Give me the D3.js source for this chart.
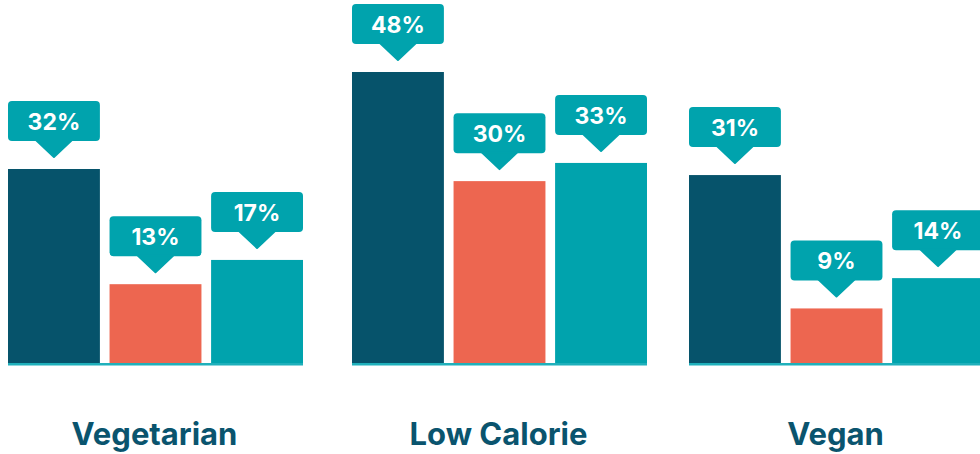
<!DOCTYPE html>
<html>
<head>
<meta charset="utf-8">
<script src="https://cdn.jsdelivr.net/npm/d3@7"></script>
<style>
  html, body { margin: 0; padding: 0; background: #fff; }
  svg { display: block; }
</style>
</head>
<body>
<div id="chart"></div>
<script>
// data
const categories = ["Vegetarian", "Low Calorie", "Vegan"];
const series = ["s1", "s2", "s3"];
const values = [
  [32, 13, 17],
  [48, 30, 33],
  [31, 9, 14],
];

const width = 980,
  height = 454,
  baseline = 363,
  groupWidth = 295,
  barColors = ["#06536b", "#ed6650", "#00a3ad"],
  calloutColor = "#00a3ad",
  lineColor = "#1fb0bb",
  labelColor = "#0a546e",
  fontFamily = "Inter, 'Open Sans', sans-serif";

// group left edges (the original layout is not evenly spaced)
const groupX = d3.scaleOrdinal(categories, [8, 352, 689]);

const xInner = d3.scaleBand(series, [0, groupWidth]).paddingInner(0.095);

const yScale = d3.scaleLinear([0, 48], [baseline, 72]);

const svg = d3
  .select("#chart")
  .append("svg")
  .attr("width", width)
  .attr("height", height)
  .attr("viewBox", [0, 0, width, height]);

const groups = svg
  .selectAll("g.group")
  .data(categories)
  .join("g")
  .attr("class", "group")
  .attr("transform", (d) => `translate(${groupX(d)},0)`);

// bars
groups
  .selectAll("rect.bar")
  .data((d, i) => values[i].map((v, j) => ({ v, s: series[j], j })))
  .join("rect")
  .attr("class", "bar")
  .attr("x", (d) => xInner(d.s))
  .attr("y", (d) => yScale(d.v))
  .attr("width", xInner.bandwidth())
  .attr("height", (d) => baseline - yScale(d.v))
  .attr("fill", (d) => barColors[d.j]);

// baseline
groups
  .append("rect")
  .attr("x", 0)
  .attr("y", baseline)
  .attr("width", groupWidth)
  .attr("height", 2.5)
  .attr("fill", lineColor);

// callouts
const boxH = 40,
  pointerH = 17,
  pointerW = 36,
  gap = 11;

const callouts = groups
  .selectAll("g.callout")
  .data((d, i) => values[i].map((v, j) => ({ v, s: series[j], j })))
  .join("g")
  .attr("class", "callout")
  .attr("transform", (d) => `translate(${xInner(d.s)},${yScale(d.v) - gap - pointerH - boxH})`);

callouts
  .append("rect")
  .attr("width", xInner.bandwidth())
  .attr("height", boxH)
  .attr("rx", 4)
  .attr("fill", calloutColor);

callouts
  .append("path")
  .attr("d", () => {
    const c = xInner.bandwidth() / 2;
    return `M${c - pointerW / 2},${boxH - 1} L${c},${boxH + pointerH - 1} L${c + pointerW / 2},${boxH - 1} Z`;
  })
  .attr("fill", calloutColor)
  .attr("stroke", calloutColor)
  .attr("stroke-width", 2)
  .attr("stroke-linejoin", "round");

callouts
  .append("text")
  .attr("x", xInner.bandwidth() / 2)
  .attr("y", boxH / 2 + 1)
  .attr("text-anchor", "middle")
  .attr("dominant-baseline", "central")
  .attr("font-family", fontFamily)
  .attr("font-weight", 700)
  .attr("font-size", 23)
  .attr("fill", "#fff")
  .text((d) => d.v + "%");

// category labels
groups
  .append("text")
  .attr("x", groupWidth / 2 - 1)
  .attr("y", 445)
  .attr("text-anchor", "middle")
  .attr("font-family", fontFamily)
  .attr("font-weight", 700)
  .attr("font-size", 31)
  .attr("fill", labelColor)
  .text((d) => d);
</script>
</body>
</html>
